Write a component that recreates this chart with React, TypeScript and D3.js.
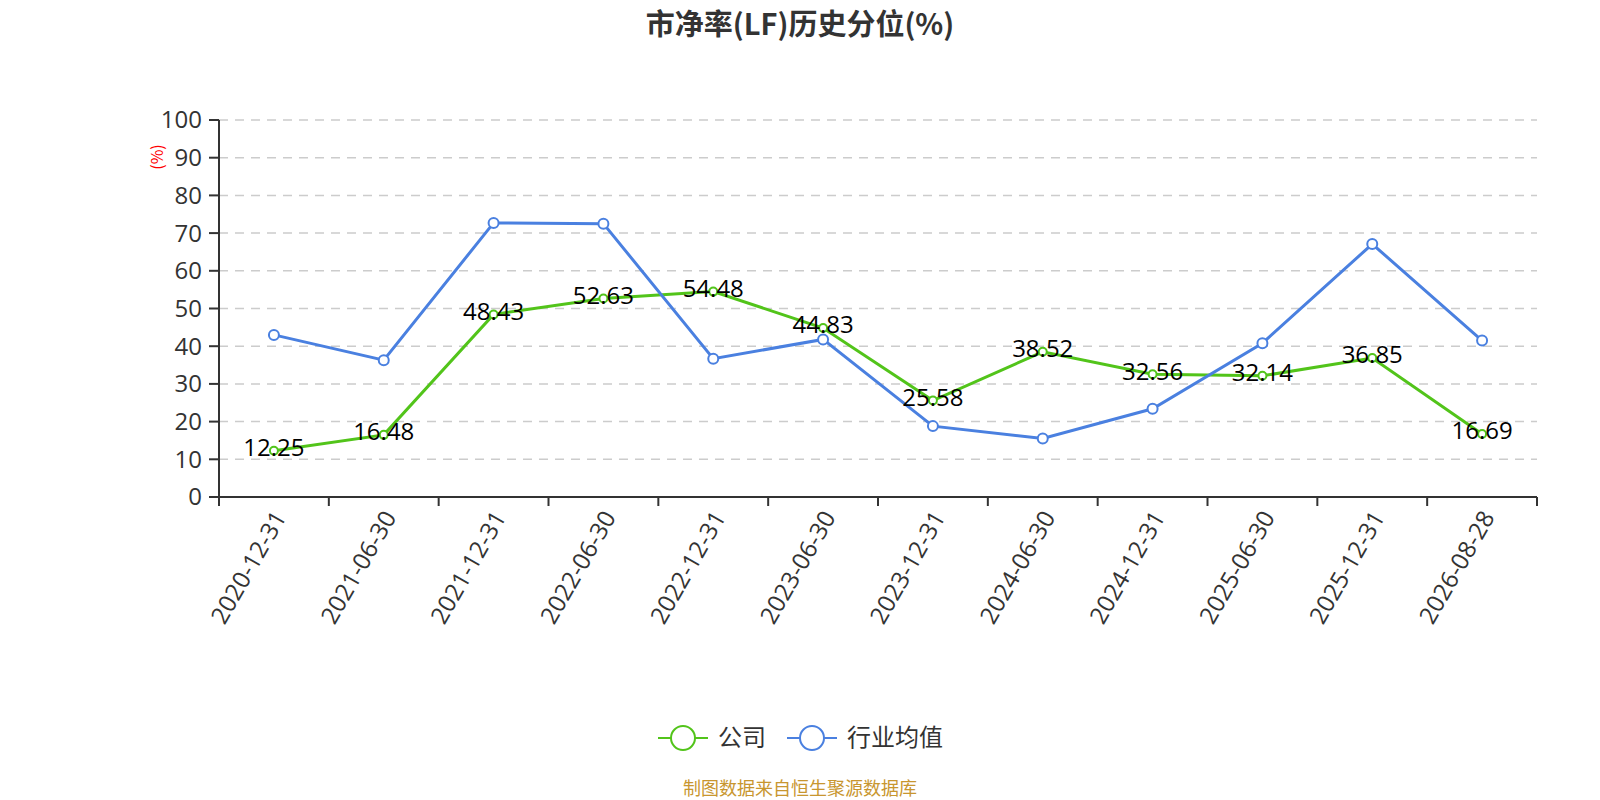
import * as d3 from "d3";

const categories = [
  "2020-12-31",
  "2021-06-30",
  "2021-12-31",
  "2022-06-30",
  "2022-12-31",
  "2023-06-30",
  "2023-12-31",
  "2024-06-30",
  "2024-12-31",
  "2025-06-30",
  "2025-12-31",
  "2026-08-28",
];
const companyValues = [12.25, 16.48, 48.43, 52.63, 54.48, 44.83, 25.58, 38.52, 32.56, 32.14, 36.85, 16.69];
const industryValues = [43.0, 36.3, 72.7, 72.5, 36.7, 41.8, 18.8, 15.5, 23.4, 40.8, 67.1, 41.5];
const yTicks = [0, 10, 20, 30, 40, 50, 60, 70, 80, 90, 100];

const W = 1600;
const H = 800;
const margin = { top: 120, right: 63, bottom: 303, left: 219 };
const FONT = "'Noto Sans CJK SC', 'Noto Sans', sans-serif";
const NUM_FONT = "'Open Sans', 'Noto Sans', sans-serif";
const GREEN = "#52c41a";
const BLUE = "#4a80e0";

export default function App() {
  const innerW = W - margin.left - margin.right;
  const innerH = H - margin.top - margin.bottom;

  const x = d3.scaleBand<string>().domain(categories).range([0, innerW]);
  const y = d3.scaleLinear().domain([0, 100]).range([innerH, 0]);
  const cx = (c: string) => (x(c) || 0) + x.bandwidth() / 2;

  const line = d3
    .line<number>()
    .x((_, i) => cx(categories[i]))
    .y((d) => y(d));

  const series = [
    { name: "公司", values: companyValues, color: GREEN, r: 4 },
    { name: "行业均值", values: industryValues, color: BLUE, r: 5 },
  ];

  const boundaries = [...categories.map((c) => x(c) || 0), innerW];

  return (
    <div style={{ position: "absolute", left: 0, top: 0 }}>
      <svg width={W} height={H} style={{ display: "block", fontFamily: FONT }}>
        <rect width={W} height={H} fill="#fff" />
        <text x={W / 2} y={35} textAnchor="middle" fontSize={29} fontWeight="bold" fill="#333">
          市净率(LF)历史分位(%)
        </text>

        <g transform={`translate(${margin.left},${margin.top})`}>
          {/* grid */}
          {yTicks
            .filter((t) => t > 0)
            .map((t) => (
              <line
                key={t}
                x1={0}
                x2={innerW}
                y1={y(t)}
                y2={y(t)}
                stroke="#ccc"
                strokeWidth={1.5}
                strokeDasharray="9,7"
              />
            ))}

          {/* y axis */}
          <line x1={0} x2={0} y1={0} y2={innerH} stroke="#333" strokeWidth={2} />
          {yTicks.map((t) => (
            <g key={t} transform={`translate(0,${y(t)})`}>
              <line x1={-10} x2={0} stroke="#333" strokeWidth={2} />
              <text
                x={-17}
                dy="0.35em"
                textAnchor="end"
                fontSize={24}
                fontFamily={NUM_FONT}
                fill="#333"
              >
                {t}
              </text>
            </g>
          ))}
          <text
            transform={`translate(${157 - margin.left},${157 - margin.top}) rotate(-90)`}
            textAnchor="middle"
            dy="0.35em"
            fontSize={16}
            fill="red"
          >
            (%)
          </text>

          {/* x axis */}
          <line x1={0} x2={innerW} y1={innerH} y2={innerH} stroke="#333" strokeWidth={2} />
          {boundaries.map((b, i) => (
            <line key={i} x1={b} x2={b} y1={innerH} y2={innerH + 9} stroke="#333" strokeWidth={2} />
          ))}
          {categories.map((c) => (
            <text
              key={c}
              transform={`translate(${cx(c) + 6},${innerH + 16}) rotate(-60)`}
              textAnchor="end"
              dy="0.35em"
              fontSize={24}
              fontFamily={NUM_FONT}
              fill="#333"
            >
              {c}
            </text>
          ))}

          {/* lines */}
          {series.map((s) => (
            <g key={s.name}>
              <path d={line(s.values) || ""} fill="none" stroke={s.color} strokeWidth={3} />
              {s.values.map((v, i) => (
                <circle
                  key={i}
                  cx={cx(categories[i])}
                  cy={y(v)}
                  r={s.r}
                  fill="#fff"
                  stroke={s.color}
                  strokeWidth={2}
                />
              ))}
            </g>
          ))}

          {/* company labels */}
          {companyValues.map((v, i) => (
            <text
              key={i}
              x={cx(categories[i])}
              y={y(v) - 3}
              textAnchor="middle"
              dy="0.35em"
              fontSize={24}
              fontFamily={NUM_FONT}
              fill="#000"
            >
              {v.toFixed(2)}
            </text>
          ))}
        </g>

        {/* legend */}
        {[
          { name: "公司", color: GREEN, x: 658 },
          { name: "行业均值", color: BLUE, x: 787 },
        ].map((l) => (
          <g key={l.name} transform={`translate(${l.x},738)`}>
            <line x1={0} x2={50} stroke={l.color} strokeWidth={2} />
            <circle cx={25} cy={0} r={12} fill="#fff" stroke={l.color} strokeWidth={2} />
            <text x={60} dy="0.35em" fontSize={24} fill="#333">
              {l.name}
            </text>
          </g>
        ))}

        <text x={W / 2} y={789} dy="0.35em" textAnchor="middle" fontSize={18} fill="#c8962f">
          制图数据来自恒生聚源数据库
        </text>
      </svg>
    </div>
  );
}
